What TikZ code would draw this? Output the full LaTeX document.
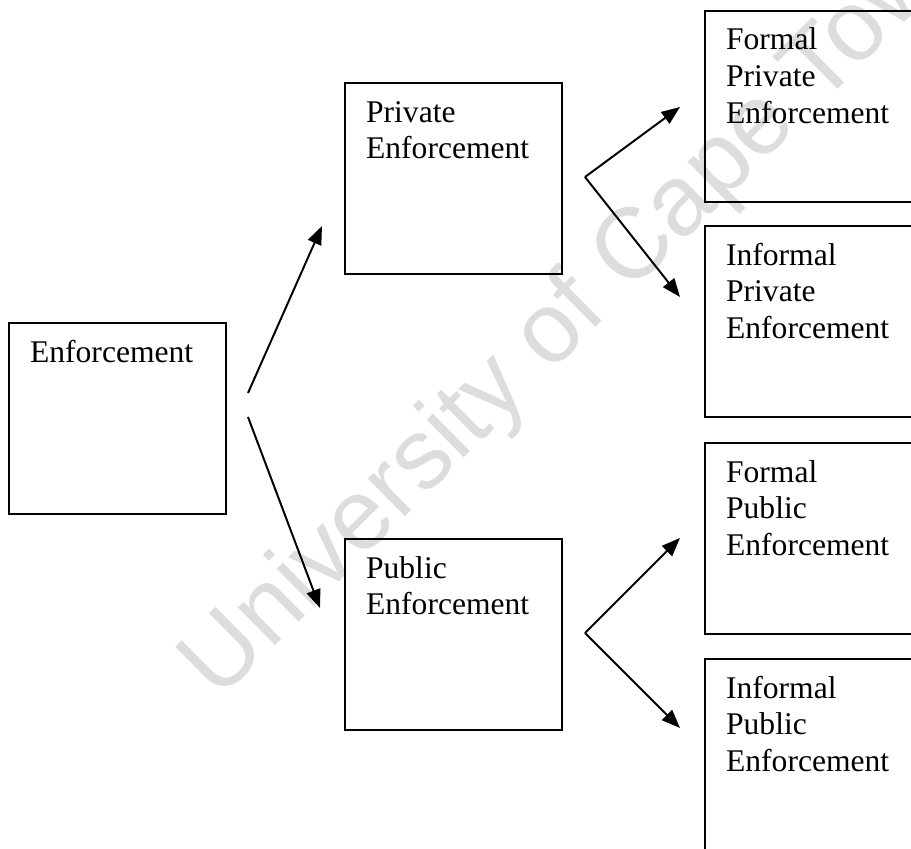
\documentclass[tikz,border=0pt]{standalone}
\usepackage{fontspec}
\setmainfont{Liberation Serif}
\newfontfamily\wmfont{Liberation Sans}
\usepackage{tikz}
\usepackage{xcolor}
\usetikzlibrary{arrows.meta,positioning}
\definecolor{wmgray}{RGB}{221,221,221}

\begin{document}
\begin{tikzpicture}
  [x=0.38pt,y=-0.38pt,
   box/.style={draw,rectangle,anchor=north west,line width=0.8pt,
     text width=66.5pt,align=left,inner xsep=8pt,inner ysep=0pt,
     text height=14.8pt,text depth=57.8pt,
     font=\fontsize{12pt}{14pt}\selectfont},
   wmark/.style={anchor=base,rotate=44.7,text=wmgray,
     font=\wmfont\fontsize{38pt}{40pt}\selectfont},
   arr/.style={line width=0.75pt,-{Triangle[length=7pt,width=5.4pt]}}]
  \useasboundingbox (0,0) rectangle (911,848);
  \clip (0,0) rectangle (911,848);

  \node[wmark] (wm) at (602,322) {University of Cape Town};

  \node[box] (enf) at (8,322) {Enforcement};
  \node[box] (priv) at (344,82) {Private\\Enforcement};
  \node[box] (pub) at (344,538) {Public\\Enforcement};
  \node[box] (fpriv) at (704,10) {Formal\\Private\\Enforcement};
  \node[box] (ipriv) at (704,225) {Informal\\Private\\Enforcement};
  \node[box] (fpub) at (704,442) {Formal\\Public\\Enforcement};
  \node[box] (ipub) at (704,658) {Informal\\Public\\Enforcement};

  \coordinate (enfup) at (248,393);
  \coordinate (enfdn) at (248,417);
  \coordinate (privfork) at (585,177);
  \coordinate (pubfork) at (585,633);
  \coordinate (topriv) at (322,226);
  \coordinate (topub) at (320,608);
  \coordinate (tofpriv) at (680,107);
  \coordinate (toipriv) at (680,297);
  \coordinate (tofpub) at (680,538);
  \coordinate (toipub) at (680,728);

  \foreach \from/\to in {enfup/topriv,enfdn/topub,privfork/tofpriv,
      privfork/toipriv,pubfork/tofpub,pubfork/toipub}
    \draw[arr] (\from) -- (\to);

\end{tikzpicture}
\end{document}
